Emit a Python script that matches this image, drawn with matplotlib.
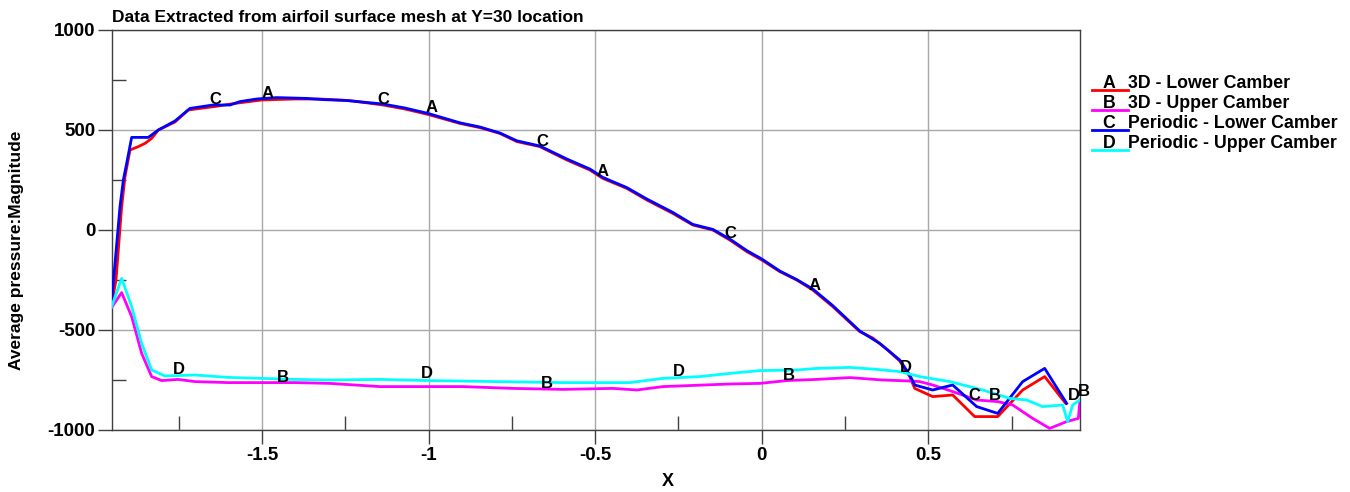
import numpy as np
import matplotlib
matplotlib.use("Agg")
import matplotlib.pyplot as plt
from matplotlib.lines import Line2D
from matplotlib.ticker import MultipleLocator

plt.rcParams['font.family'] = ['Liberation Sans', 'DejaVu Sans']
plt.rcParams['font.weight'] = 'bold'
plt.rcParams['axes.unicode_minus'] = False

# 3D - Lower Camber (A)
a_x = [-1.953, -1.938, -1.921, -1.911, -1.896, -1.871, -1.851, -1.831, -1.811, -1.761,
       -1.721, -1.631, -1.581, -1.501, -1.401, -1.326, -1.236, -1.137, -1.071, -1.002,
       -0.906, -0.846, -0.786, -0.735, -0.666, -0.585, -0.516, -0.477, -0.405, -0.345,
       -0.267, -0.207, -0.147, -0.096, -0.045, 0.0, 0.054, 0.105, 0.153, 0.213,
       0.294, 0.333, 0.378, 0.414, 0.444, 0.459, 0.513, 0.573, 0.639, 0.708,
       0.783, 0.849, 0.912]
a_y = [-390, -250, 117, 267, 400, 417, 433, 458, 500, 540,
       600, 620, 633, 650, 655, 655, 647, 625, 605, 578,
       533, 512, 483, 442, 417, 350, 300, 258, 208, 150,
       83, 25, 0, -50, -108, -150, -208, -250, -300, -383,
       -508, -540, -600, -655, -733, -792, -833, -825, -933, -933,
       -800, -733, -867]

# 3D - Upper Camber (B)
b_x = [-1.953, -1.921, -1.891, -1.861, -1.831, -1.801, -1.752, -1.701, -1.602, -1.401,
       -1.296, -1.146, -0.897, -0.747, -0.597, -0.447, -0.375, -0.297, -0.096, -0.006,
       0.075, 0.165, 0.264, 0.363, 0.444, 0.474, 0.513, 0.573, 0.645, 0.708,
       0.753, 0.813, 0.864, 0.915, 0.950, 0.955]
b_y = [-392, -313, -433, -617, -733, -753, -747, -758, -763, -763,
       -767, -783, -783, -792, -797, -792, -800, -783, -770, -767,
       -753, -747, -738, -750, -755, -758, -775, -808, -850, -858,
       -875, -942, -992, -958, -942, -850]

# Periodic - Lower Camber (C)
c_x = [-1.953, -1.941, -1.926, -1.916, -1.906, -1.891, -1.881, -1.841, -1.811, -1.761,
       -1.716, -1.647, -1.596, -1.566, -1.516, -1.456, -1.366, -1.317, -1.251, -1.137,
       -1.071, -1.002, -0.906, -0.846, -0.786, -0.735, -0.666, -0.585, -0.516, -0.477,
       -0.405, -0.345, -0.267, -0.207, -0.147, -0.096, -0.045, 0.0, 0.054, 0.105,
       0.153, 0.213, 0.294, 0.354, 0.414, 0.444, 0.459, 0.513, 0.573, 0.645,
       0.708, 0.783, 0.849, 0.915]
c_y = [-390, -167, 117, 250, 333, 463, 463, 463, 500, 545,
       608, 625, 625, 642, 655, 662, 658, 652, 648, 630,
       610, 583, 536, 515, 485, 446, 420, 355, 305, 263,
       212, 155, 88, 28, 3, -45, -103, -145, -205, -248,
       -295, -378, -505, -567, -650, -725, -775, -800, -775, -883,
       -917, -758, -692, -867]

# Periodic - Upper Camber (D)
d_x = [-1.953, -1.921, -1.891, -1.861, -1.831, -1.791, -1.701, -1.602, -1.401, -1.296,
       -1.146, -0.996, -0.795, -0.597, -0.396, -0.297, -0.186, -0.096, -0.006, 0.105,
       0.165, 0.264, 0.345, 0.414, 0.474, 0.564, 0.663, 0.744, 0.795, 0.843,
       0.903, 0.918, 0.933, 0.955]
d_y = [-392, -242, -383, -567, -700, -730, -725, -737, -747, -750,
       -747, -753, -758, -763, -763, -742, -733, -717, -703, -700,
       -692, -687, -697, -708, -733, -758, -800, -842, -850, -883,
       -875, -958, -875, -850]

# curve letter marks
a_lab = [(-1.482, 685), (-0.990, 615), (-0.477, 295), (0.159, -275)]
b_lab = [(-1.437, -735), (-0.645, -770), (0.081, -730), (0.699, -830), (0.966, -805)]
c_lab = [(-1.641, 655), (-1.137, 655), (-0.660, 440), (-0.093, -15), (0.639, -830)]
d_lab = [(-1.749, -700), (-1.005, -720), (-0.249, -710), (0.432, -685), (0.936, -830)]

series = [
    ("A", "3D - Lower Camber", a_x, a_y, a_lab, "#ff0000"),
    ("B", "3D - Upper Camber", b_x, b_y, b_lab, "#ff00ff"),
    ("C", "Periodic - Lower Camber", c_x, c_y, c_lab, "#0000ff"),
    ("D", "Periodic - Upper Camber", d_x, d_y, d_lab, "#00ffff"),
]

fig = plt.figure(figsize=(13.5, 4.92), dpi=100)
ax = fig.add_axes([112 / 1350, 1 - 430 / 492, (1080 - 112) / 1350, 400 / 492])

for letter, name, xs, ys, labs, col in series:
    ax.plot(xs, ys, color=col, lw=2.0, zorder=3)
    for lx, ly in labs:
        ax.text(lx, ly, letter, fontsize=12, fontweight='bold', ha='center', va='center',
                zorder=4, clip_on=False)

ax.set_xlim(-1.95, 0.955)
ax.set_ylim(-1000, 1000)
ax.xaxis.set_major_locator(MultipleLocator(0.5))
ax.xaxis.set_minor_locator(MultipleLocator(0.25))
ax.yaxis.set_major_locator(MultipleLocator(500))
ax.yaxis.set_minor_locator(MultipleLocator(250))
ax.set_xticks([-1.5, -1, -0.5, 0, 0.5])
ax.set_xticklabels(["-1.5", "-1", "-0.5", "0", "0.5"])
ax.grid(True, which='major', color='#a8a8a8', lw=1.0)
ax.tick_params(which='major', direction='out', length=10, width=1, colors='#404040',
               labelsize=13.5, labelcolor='black', pad=2)
ax.tick_params(which='minor', direction='in', length=10, width=1, colors='#404040')
for t in ax.get_xticklabels() + ax.get_yticklabels():
    t.set_fontweight('bold')
for s in ax.spines.values():
    s.set_color('#404040')
    s.set_linewidth(1)

fig.text(112 / 1350, 1 - 17 / 492, "Data Extracted from airfoil surface mesh at Y=30 location",
         fontsize=12.5, fontweight='bold', va='center', ha='left')
fig.text(17 / 1350, 1 - 250 / 492, "Average pressure:Magnitude", rotation=90,
         fontsize=12.5, fontweight='bold', va='center', ha='center')
fig.text(668 / 1350, 1 - 482 / 492, "X", fontsize=13, fontweight='bold',
         va='center', ha='center')

# legend drawn in figure pixels
for i, (letter, name, xs, ys, labs, col) in enumerate(series):
    yc = 84 + 20 * i
    fig.add_artist(Line2D([1092 / 1350, 1128 / 1350], [1 - (yc + 6) / 492] * 2,
                          color=col, lw=2.0, transform=fig.transFigure))
    fig.text(1109 / 1350, 1 - yc / 492, letter, fontsize=12.8, fontweight='bold',
             ha='center', va='center')
    fig.text(1128 / 1350, 1 - yc / 492, name, fontsize=12.8, fontweight='bold',
             ha='left', va='center')

fig.savefig("out.png", dpi=100)
